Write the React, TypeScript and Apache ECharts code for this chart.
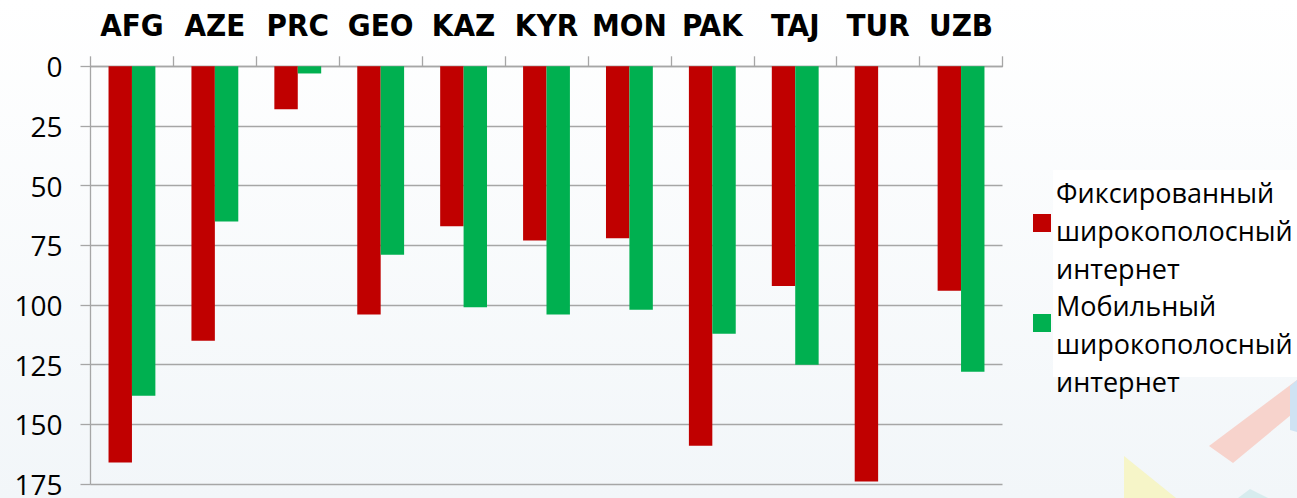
import React, { useEffect, useRef } from "react";
import * as echarts from "echarts";

const categories = ["AFG", "AZE", "PRC", "GEO", "KAZ", "KYR", "MON", "PAK", "TAJ", "TUR", "UZB"];
const fixedBroadband = [166, 115, 18, 104, 67, 73, 72, 159, 92, 174, 94];
const mobileBroadband = [138, 65, 3, 79, 101, 104, 102, 112, 125, null, 128];
const yTicks = { min: 0, max: 175, interval: 25 };
const seriesNames = [
  "Фиксированный широкополосный интернет",
  "Мобильный широкополосный интернет",
];

const W = 1297;
const H = 498;

export default function App() {
  const ref = useRef<HTMLDivElement>(null);
  useEffect(() => {
    if (!ref.current) return;
    const chart = echarts.init(ref.current, null, { renderer: "svg" });
    const sans = "'Open Sans', 'Noto Sans', sans-serif";
    const boldCond = "'DejaVu Sans Condensed', 'DejaVu Sans', sans-serif";
    const makeLegend = (name: string, top: number, spacer: number) => ({
      orient: "vertical" as const,
      left: 1033,
      top,
      itemWidth: 18,
      itemHeight: 18,
      padding: 0,
      icon: "rect",
      selectedMode: false,
      data: [name],
      formatter: (n: string) =>
        "{s| }\n" + n.split(" ").map((w) => "{t|" + w + "}").join("\n"),
      textStyle: {
        fontFamily: sans,
        fontSize: 27,
        color: "#000",
        rich: {
          s: { fontSize: 1, lineHeight: spacer, height: spacer },
          t: { fontFamily: sans, fontSize: 27, lineHeight: 38, color: "#000" },
        },
      },
    });
    chart.setOption({
      animation: false,
      backgroundColor: {
        type: "linear",
        x: 0,
        y: 0,
        x2: 0,
        y2: 1,
        colorStops: [
          { offset: 0, color: "#ffffff" },
          { offset: 1, color: "#f2f6f9" },
        ],
      },
      graphic: [
        {
          type: "polygon",
          silent: true,
          z: -10,
          shape: { points: [[1209, 446], [1297, 380], [1297, 410], [1233, 463]] },
          style: { fill: "#f7d3cc" },
        },
        {
          type: "polygon",
          silent: true,
          z: -10,
          shape: { points: [[1290, 386], [1297, 380], [1297, 432], [1290, 430]] },
          style: { fill: "#cfe3f3" },
        },
        {
          type: "polygon",
          silent: true,
          z: -10,
          shape: { points: [[1124, 456], [1176, 498], [1124, 498]] },
          style: { fill: "#f6f5c8" },
        },
        {
          type: "polygon",
          silent: true,
          z: -10,
          shape: { points: [[1238, 498], [1250, 489], [1268, 498]] },
          style: { fill: "#d7ecee" },
        },
        {
          type: "rect",
          silent: true,
          z: -5,
          shape: { x: 1053, y: 170, width: 244, height: 207 },
          style: { fill: "#ffffff" },
        },
      ],
      grid: { left: 90.5, right: 294.5, top: 66.3, bottom: 13.8, containLabel: false },
      legend: [
        makeLegend(seriesNames[0], 159, 14),
        makeLegend(seriesNames[1], 246, 40),
      ],
      xAxis: {
        type: "category",
        position: "top",
        data: categories,
        axisLine: { show: true, lineStyle: { color: "#a6a6a6", width: 1.3 } },
        axisTick: { show: true, length: 10, lineStyle: { color: "#a6a6a6", width: 1.3 } },
        axisLabel: {
          interval: 0,
          margin: 26,
          fontFamily: boldCond,
          fontWeight: "bold",
          fontSize: 31,
          color: "#000",
        },
        splitLine: { show: false },
      },
      yAxis: {
        type: "value",
        inverse: true,
        min: yTicks.min,
        max: yTicks.max,
        interval: yTicks.interval,
        axisLine: { show: true, lineStyle: { color: "#a6a6a6", width: 1.3 } },
        axisTick: { show: true, length: 10, lineStyle: { color: "#a6a6a6", width: 1.3 } },
        axisLabel: {
          margin: 28,
          fontFamily: sans,
          fontSize: 28,
          color: "#000",
        },
        splitLine: { show: true, lineStyle: { color: "#a6a6a6", width: 1.3 } },
      },
      series: [
        {
          name: seriesNames[0],
          type: "bar",
          data: fixedBroadband,
          barGap: "0%",
          barCategoryGap: "43.5%",
          itemStyle: { color: "#c00000" },
        },
        {
          name: seriesNames[1],
          type: "bar",
          data: mobileBroadband,
          barGap: "0%",
          barCategoryGap: "43.5%",
          itemStyle: { color: "#00b050" },
        },
      ],
    });
    return () => chart.dispose();
  }, []);
  return (
    <div
      ref={ref}
      style={{ position: "fixed", left: 0, top: 0, width: W, height: H }}
    />
  );
}
